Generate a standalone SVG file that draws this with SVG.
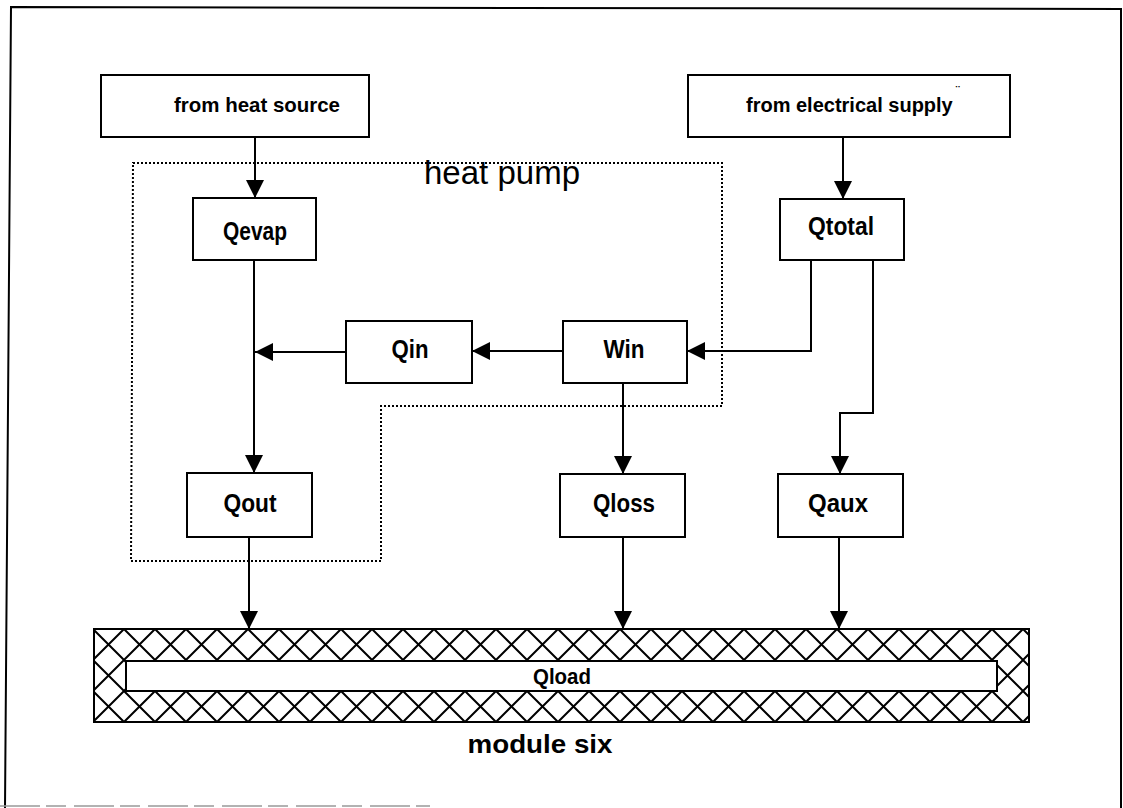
<svg xmlns="http://www.w3.org/2000/svg" width="1123" height="808" viewBox="0 0 1123 808">
<style>
.box{fill:#fff;stroke:#000;stroke-width:2}
.lbl{font-family:"Liberation Sans",Arial,sans-serif;font-weight:bold;fill:#000;text-anchor:middle}
.q{font-size:25px}
.con{fill:none;stroke:#000;stroke-width:2}
.dot{fill:none;stroke:#000;stroke-width:2;stroke-dasharray:2 2}
</style>
<defs>
<marker id="ah" viewBox="0 0 18 18" refX="18" refY="9" markerWidth="18" markerHeight="18" markerUnits="userSpaceOnUse" orient="auto">
<path d="M0,0 L18,9 L0,18 Z" fill="#000"/>
</marker>
<pattern id="hatch" patternUnits="userSpaceOnUse" x="248" y="629" width="31" height="31">
<rect width="31" height="31" fill="#fff"/>
<path d="M0,0 L31,31 M31,0 L0,31" stroke="#000" stroke-width="2"/>
</pattern>
</defs>
<rect width="1123" height="808" fill="#fff"/>
<g id="page-border">
<path d="M5,808 L11,7 L1121,9 L1121,808" fill="none" stroke="#000" stroke-width="2"/>
<path d="M0,806 H430" fill="none" stroke="#999" stroke-width="1.5" stroke-dasharray="40 6 20 8"/>
</g>
<g id="heat-pump-boundary">
<path class="dot" d="M133,163 H722 V406 H381 V561 H131 Z"/>
<text class="lbl" x="502" y="184" style="font-weight:normal;font-size:33px" textLength="156" lengthAdjust="spacingAndGlyphs">heat pump</text>
</g>
<g id="connectors">
<path class="con" d="M255,137 V198" marker-end="url(#ah)"/>
<path class="con" d="M843,137 V199" marker-end="url(#ah)"/>
<path class="con" d="M254,260 V473" marker-end="url(#ah)"/>
<path class="con" d="M346,352 H255" marker-end="url(#ah)"/>
<path class="con" d="M563,351 H472" marker-end="url(#ah)"/>
<path class="con" d="M811,260 V351 H687" marker-end="url(#ah)"/>
<path class="con" d="M873,260 V413 H840 V474" marker-end="url(#ah)"/>
<path class="con" d="M623,383 V474" marker-end="url(#ah)"/>
<path class="con" d="M249,537 V629" marker-end="url(#ah)"/>
<path class="con" d="M623,537 V629" marker-end="url(#ah)"/>
<path class="con" d="M839,537 V629" marker-end="url(#ah)"/>
</g>
<g id="from-heat-source">
<rect class="box" x="101" y="75" width="268" height="62"/>
<text class="lbl" x="257" y="112" style="font-size:21px" textLength="166" lengthAdjust="spacingAndGlyphs">from heat source</text>
</g>
<g id="from-electrical-supply">
<rect class="box" x="688" y="75" width="322" height="62"/>
<text class="lbl" x="746" y="112" style="font-size:20px;text-anchor:start">from electrical supply<tspan dx="3" dy="-17" style="font-size:12px">¨</tspan></text>
</g>
<g id="Qevap">
<rect class="box" x="193" y="198" width="123" height="62"/>
<text class="lbl q" x="255" y="240" textLength="64" lengthAdjust="spacingAndGlyphs">Qevap</text>
</g>
<g id="Qtotal">
<rect class="box" x="780" y="199" width="124" height="61"/>
<text class="lbl q" x="841" y="235" textLength="66" lengthAdjust="spacingAndGlyphs">Qtotal</text>
</g>
<g id="Qin">
<rect class="box" x="346" y="321" width="126" height="62"/>
<text class="lbl q" x="410" y="358" textLength="37" lengthAdjust="spacingAndGlyphs">Qin</text>
</g>
<g id="Win">
<rect class="box" x="563" y="321" width="124" height="62"/>
<text class="lbl q" x="624" y="358" textLength="41" lengthAdjust="spacingAndGlyphs">Win</text>
</g>
<g id="Qout">
<rect class="box" x="187" y="473" width="125" height="64"/>
<text class="lbl q" x="250" y="512" textLength="53" lengthAdjust="spacingAndGlyphs">Qout</text>
</g>
<g id="Qloss">
<rect class="box" x="560" y="474" width="125" height="63"/>
<text class="lbl q" x="624" y="512" textLength="62" lengthAdjust="spacingAndGlyphs">Qloss</text>
</g>
<g id="Qaux">
<rect class="box" x="778" y="474" width="125" height="63"/>
<text class="lbl q" x="838" y="512" textLength="60" lengthAdjust="spacingAndGlyphs">Qaux</text>
</g>
<g id="Qload">
<rect x="94" y="629" width="935" height="93" fill="url(#hatch)" stroke="#000" stroke-width="2"/>
<rect class="box" x="126" y="661" width="871" height="30"/>
<text class="lbl" x="562" y="684" style="font-size:22px" textLength="58" lengthAdjust="spacingAndGlyphs">Qload</text>
</g>
<g id="module-six">
<text class="lbl" x="540" y="753" style="font-size:25px" textLength="145" lengthAdjust="spacingAndGlyphs">module six</text>
</g>
</svg>
